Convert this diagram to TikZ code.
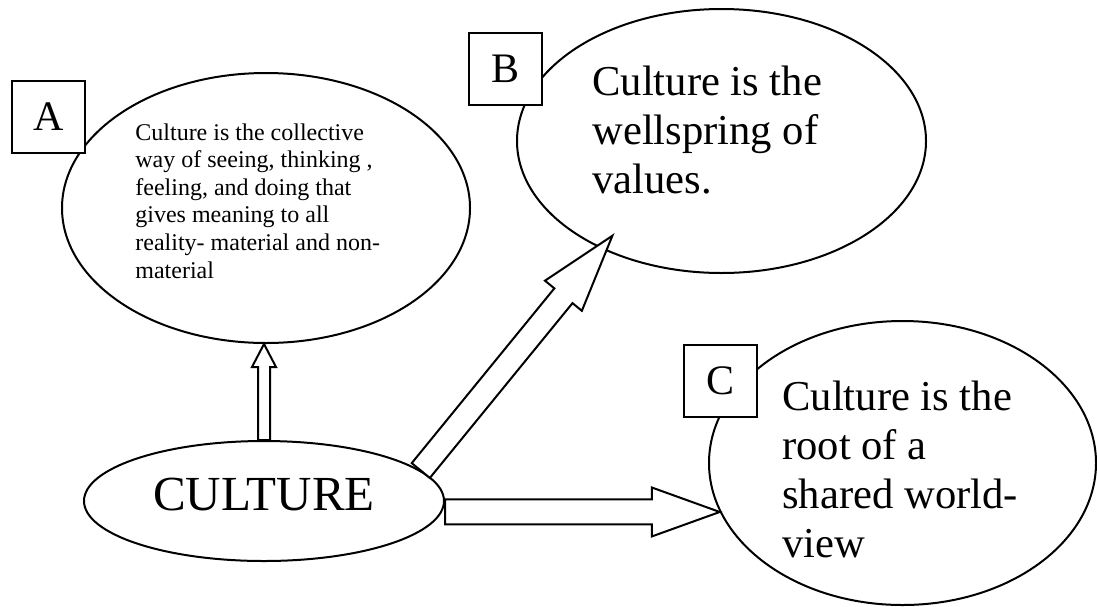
\documentclass[tikz,border=0pt]{standalone}
\usepackage{fontspec}
\setmainfont{Liberation Serif}
\usetikzlibrary{shapes.geometric, calc}
\tikzset{
idea/.style={ellipse, draw, line width=1pt, inner sep=0pt},
tag/.style={draw, fill=white, line width=1pt, minimum width=36.5pt, minimum height=36pt, inner sep=0pt, font=\fontsize{21}{24}\selectfont},
blurb/.style={align=left, inner sep=0pt, anchor=base west},
block/.style={draw, fill=white, line width=1pt, line join=miter},
}
\newcommand{\bigtext}{\fontsize{21.3}{24.5}\selectfont}
% tail, tip, half shaft, half head, head length
\newcommand{\blockarrow}[5]{%
    \path ($(#2)!#5!(#1)$) coordinate (hb);
    \draw[block] ($(#1)!#3!90:(#2)$) -- ($(hb)!#3!90:(#2)$) -- ($(hb)!#4!90:(#2)$) -- (#2)
        -- ($(hb)!#4!-90:(#2)$) -- ($(hb)!#3!-90:(#2)$) -- ($(#1)!#3!-90:(#2)$) -- cycle;
}

\begin{document}
\begin{tikzpicture}[x=0.5pt, y=-0.5pt]
    \useasboundingbox (0,0) rectangle (1097,606);
    \node[idea, minimum width=204pt, minimum height=135pt] (ellA) at (266,208) {};
    \node[idea, minimum width=204.5pt, minimum height=132pt] (ellB) at (721.5,141) {};
    \node[idea, minimum width=193.5pt, minimum height=142pt] (ellC) at (902.5,463) {};
    \node[idea, minimum width=180pt, minimum height=60pt, text depth=6.6pt, font=\fontsize{24.5}{28}\selectfont] (culture) at (264,501) {CULTURE};

    \coordinate (upTail) at (culture.north);
    \coordinate (upTip) at (culture.north |- ellA.south);
    \coordinate (diagTail) at (culture.11);
    \coordinate (diagTip) at ($(culture.11)!1.06!(ellB.222)$);
    \coordinate (sideTip) at (ellC.195);
    \coordinate (sideTail) at (culture.east |- sideTip);
    \blockarrow{upTail}{upTip}{3pt}{6pt}{11.5pt}
    \blockarrow{diagTail}{diagTip}{5.85pt}{11.9pt}{38.75pt}
    \blockarrow{sideTail}{sideTip}{6.25pt}{12.25pt}{34pt}

    \node[tag] (tagA) at (48.5,117) {A};
    \node[tag] (tagB) at (505,69) {B};
    \node[tag] (tagC) at (720.5,380.5) {C};

    % anchor is the baseline of the last line
    \node[blurb, font=\fontsize{12}{13.8}\selectfont] (txtA) at (135,278) {Culture is the collective\\ way of seeing, thinking ,\\ feeling, and doing that\\ gives meaning to all\\ reality- material and non-\\ material};
    \node[blurb, font=\bigtext] (txtB) at (592,193) {Culture is the\\ wellspring of\\ values.};
    \node[blurb, font=\bigtext] (txtC) at (782,557) {Culture is the\\ root of a\\ shared world-\\ view};
\end{tikzpicture}
\end{document}
